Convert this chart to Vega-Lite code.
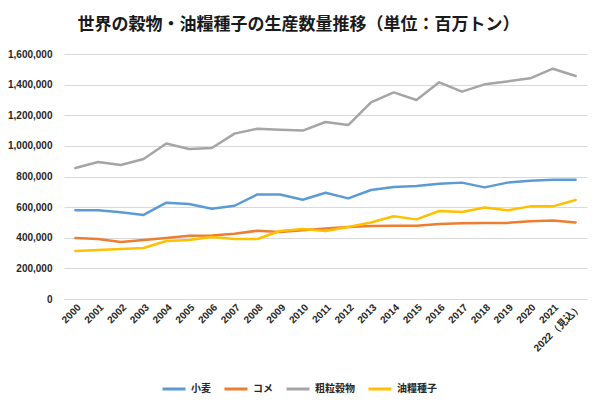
{
  "$schema": "https://vega.github.io/schema/vega-lite/v6.json",
  "autosize": {"type": "none"},
  "width": 523,
  "height": 245,
  "padding": {"left": 64, "top": 54, "right": 13, "bottom": 105},
  "background": "white",
  "config": {"view": {"stroke": null}, "font": "Noto Sans CJK JP"},
  "title": {
    "text": "世界の穀物・油糧種子の生産数量推移（単位：百万トン）",
    "font": "Noto Sans CJK JP",
    "fontSize": 17,
    "fontWeight": "bold",
    "color": "#1a1a1a",
    "anchor": "middle",
    "dx": -27,
    "offset": 15
  },
  "data": {"values": [
    {"year":"2000","crop":"小麦","value":579000},
    {"year":"2001","crop":"小麦","value":579000},
    {"year":"2002","crop":"小麦","value":566000},
    {"year":"2003","crop":"小麦","value":549000},
    {"year":"2004","crop":"小麦","value":629000},
    {"year":"2005","crop":"小麦","value":620000},
    {"year":"2006","crop":"小麦","value":590000},
    {"year":"2007","crop":"小麦","value":609000},
    {"year":"2008","crop":"小麦","value":683000},
    {"year":"2009","crop":"小麦","value":683000},
    {"year":"2010","crop":"小麦","value":648000},
    {"year":"2011","crop":"小麦","value":694000},
    {"year":"2012","crop":"小麦","value":657000},
    {"year":"2013","crop":"小麦","value":712000},
    {"year":"2014","crop":"小麦","value":731000},
    {"year":"2015","crop":"小麦","value":738000},
    {"year":"2016","crop":"小麦","value":753000},
    {"year":"2017","crop":"小麦","value":760000},
    {"year":"2018","crop":"小麦","value":729000},
    {"year":"2019","crop":"小麦","value":760000},
    {"year":"2020","crop":"小麦","value":773000},
    {"year":"2021","crop":"小麦","value":779000},
    {"year":"2022（見込）","crop":"小麦","value":779000},
    {"year":"2000","crop":"コメ","value":398000},
    {"year":"2001","crop":"コメ","value":392000},
    {"year":"2002","crop":"コメ","value":372000},
    {"year":"2003","crop":"コメ","value":385000},
    {"year":"2004","crop":"コメ","value":398000},
    {"year":"2005","crop":"コメ","value":413000},
    {"year":"2006","crop":"コメ","value":415000},
    {"year":"2007","crop":"コメ","value":426000},
    {"year":"2008","crop":"コメ","value":446000},
    {"year":"2009","crop":"コメ","value":437000},
    {"year":"2010","crop":"コメ","value":449000},
    {"year":"2011","crop":"コメ","value":461000},
    {"year":"2012","crop":"コメ","value":470000},
    {"year":"2013","crop":"コメ","value":477000},
    {"year":"2014","crop":"コメ","value":479000},
    {"year":"2015","crop":"コメ","value":479000},
    {"year":"2016","crop":"コメ","value":490000},
    {"year":"2017","crop":"コメ","value":494000},
    {"year":"2018","crop":"コメ","value":497000},
    {"year":"2019","crop":"コメ","value":497000},
    {"year":"2020","crop":"コメ","value":507000},
    {"year":"2021","crop":"コメ","value":513000},
    {"year":"2022（見込）","crop":"コメ","value":500000},
    {"year":"2000","crop":"粗粒穀物","value":855000},
    {"year":"2001","crop":"粗粒穀物","value":895000},
    {"year":"2002","crop":"粗粒穀物","value":875000},
    {"year":"2003","crop":"粗粒穀物","value":914000},
    {"year":"2004","crop":"粗粒穀物","value":1016000},
    {"year":"2005","crop":"粗粒穀物","value":980000},
    {"year":"2006","crop":"粗粒穀物","value":986000},
    {"year":"2007","crop":"粗粒穀物","value":1080000},
    {"year":"2008","crop":"粗粒穀物","value":1112000},
    {"year":"2009","crop":"粗粒穀物","value":1105000},
    {"year":"2010","crop":"粗粒穀物","value":1100000},
    {"year":"2011","crop":"粗粒穀物","value":1156000},
    {"year":"2012","crop":"粗粒穀物","value":1136000},
    {"year":"2013","crop":"粗粒穀物","value":1284000},
    {"year":"2014","crop":"粗粒穀物","value":1349000},
    {"year":"2015","crop":"粗粒穀物","value":1300000},
    {"year":"2016","crop":"粗粒穀物","value":1415000},
    {"year":"2017","crop":"粗粒穀物","value":1354000},
    {"year":"2018","crop":"粗粒穀物","value":1402000},
    {"year":"2019","crop":"粗粒穀物","value":1421000},
    {"year":"2020","crop":"粗粒穀物","value":1441000},
    {"year":"2021","crop":"粗粒穀物","value":1504000},
    {"year":"2022（見込）","crop":"粗粒穀物","value":1456000},
    {"year":"2000","crop":"油糧種子","value":313000},
    {"year":"2001","crop":"油糧種子","value":320000},
    {"year":"2002","crop":"油糧種子","value":326000},
    {"year":"2003","crop":"油糧種子","value":333000},
    {"year":"2004","crop":"油糧種子","value":379000},
    {"year":"2005","crop":"油糧種子","value":385000},
    {"year":"2006","crop":"油糧種子","value":405000},
    {"year":"2007","crop":"油糧種子","value":392000},
    {"year":"2008","crop":"油糧種子","value":392000},
    {"year":"2009","crop":"油糧種子","value":444000},
    {"year":"2010","crop":"油糧種子","value":457000},
    {"year":"2011","crop":"油糧種子","value":444000},
    {"year":"2012","crop":"油糧種子","value":470000},
    {"year":"2013","crop":"油糧種子","value":500000},
    {"year":"2014","crop":"油糧種子","value":540000},
    {"year":"2015","crop":"油糧種子","value":520000},
    {"year":"2016","crop":"油糧種子","value":575000},
    {"year":"2017","crop":"油糧種子","value":568000},
    {"year":"2018","crop":"油糧種子","value":598000},
    {"year":"2019","crop":"油糧種子","value":579000},
    {"year":"2020","crop":"油糧種子","value":605000},
    {"year":"2021","crop":"油糧種子","value":605000},
    {"year":"2022（見込）","crop":"油糧種子","value":647000}
  ]},
  "mark": {"type": "line", "strokeWidth": 2.5, "strokeCap": "round", "strokeJoin": "round"},
  "encoding": {
    "x": {
      "field": "year",
      "type": "ordinal",
      "sort": null,
      "scale": {"type": "point", "padding": 0.5},
      "axis": {
        "title": null,
        "labelAngle": -45,
        "labelFont": "Liberation Sans",
        "labelFontSize": 10,
        "labelFontWeight": "bold",
        "labelColor": "#262626",
        "labelPadding": 3,
        "ticks": false,
        "domain": true,
        "domainColor": "#d9d9d9",
        "grid": false
      }
    },
    "y": {
      "field": "value",
      "type": "quantitative",
      "scale": {"domain": [0, 1600000], "nice": false},
      "axis": {
        "title": null,
        "values": [0, 200000, 400000, 600000, 800000, 1000000, 1200000, 1400000, 1600000],
        "format": ",d",
        "labelFont": "Liberation Sans",
        "labelFontSize": 10,
        "labelFontWeight": "bold",
        "labelColor": "#262626",
        "labelPadding": 12,
        "ticks": false,
        "domain": false,
        "grid": true,
        "gridColor": "#d9d9d9",
        "gridWidth": 1
      }
    },
    "color": {
      "field": "crop",
      "type": "nominal",
      "scale": {
        "domain": ["小麦", "コメ", "粗粒穀物", "油糧種子"],
        "range": ["#5B9BD5", "#ED7D31", "#A5A5A5", "#FFC000"]
      },
      "legend": {
        "title": null,
        "orient": "none",
        "legendX": 97,
        "legendY": 322,
        "direction": "horizontal",
        "symbolType": "stroke",
        "symbolSize": 529,
        "symbolStrokeWidth": 3,
        "labelFont": "Noto Sans CJK JP",
        "labelFontSize": 10,
        "labelFontWeight": "bold",
        "labelColor": "#262626",
        "labelOffset": 4,
        "columnPadding": 7
      }
    }
  }
}
